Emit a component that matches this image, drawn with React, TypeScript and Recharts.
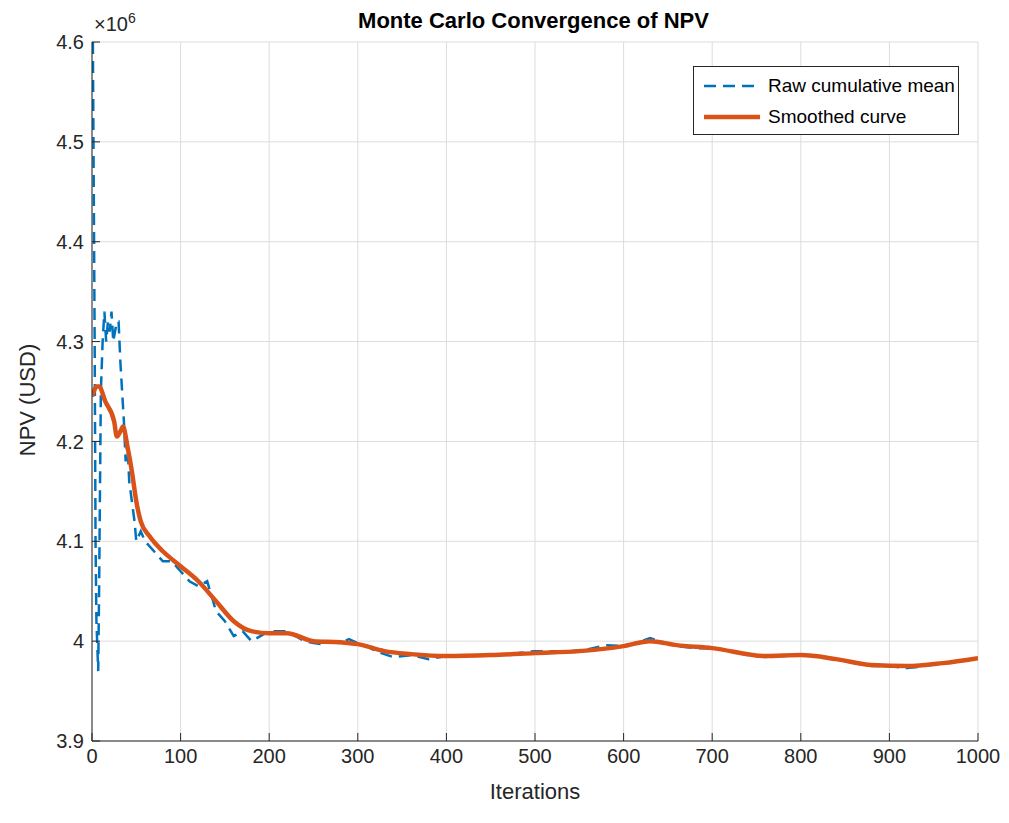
import React from "react";
import { LineChart, Line, XAxis, YAxis, CartesianGrid, Label } from "recharts";

const rawX = [1,2,3,4,5,7,8,9,10,12,14,16,18,20,22,24,26,28,30,32,34,36,38,40,42,45,48,50,55,60,70,80,90,100,110,120,130,140,150,160,170,180,190,200,210,220,230,240,250,260,270,280,290,300,310,320,340,360,380,400,420,440,460,480,500,520,540,560,580,600,620,630,640,660,680,700,720,740,760,780,800,820,840,860,880,900,920,940,960,980,1000];
const rawY = [4.6,4.45,4.3,4.1,4.02,3.97,4.05,4.15,4.25,4.3,4.33,4.3,4.32,4.31,4.33,4.3,4.31,4.32,4.32,4.28,4.25,4.22,4.18,4.2,4.16,4.14,4.12,4.1,4.11,4.1,4.09,4.08,4.08,4.07,4.06,4.055,4.06,4.03,4.02,4.005,4.01,4.0,4.005,4.01,4.01,4.01,4.005,4.0,3.998,3.997,3.999,3.998,4.002,3.998,3.995,3.99,3.984,3.986,3.982,3.985,3.985,3.986,3.986,3.988,3.99,3.99,3.99,3.992,3.996,3.995,4.0,4.003,4.0,3.995,3.993,3.993,3.99,3.986,3.984,3.985,3.986,3.985,3.982,3.978,3.975,3.975,3.973,3.975,3.978,3.98,3.983];
const smX = [0,2,5,8,15,25,28,32,35,40,45,50,55,65,80,100,120,140,160,180,200,220,250,280,300,330,360,400,450,500,550,600,630,660,700,760,800,840,880,920,960,1000];
const smY = [4.245,4.25,4.255,4.255,4.24,4.22,4.205,4.21,4.215,4.195,4.17,4.14,4.12,4.105,4.09,4.075,4.06,4.04,4.02,4.01,4.008,4.008,4.0,3.999,3.997,3.99,3.987,3.985,3.986,3.988,3.99,3.995,4.0,3.996,3.993,3.985,3.986,3.982,3.976,3.975,3.978,3.983];
const xTicks = [0,100,200,300,400,500,600,700,800,900,1000];
const yTicks = [3.9e6,4.0e6,4.1e6,4.2e6,4.3e6,4.4e6,4.5e6,4.6e6];

const rawData = rawX.map((x, i) => ({ x, y: rawY[i] * 1e6 }));
const smData = smX.map((x, i) => ({ x, y: smY[i] * 1e6 }));

const font = "Arial, 'Liberation Sans', sans-serif";

export default function App() {
  return (
    <div style={{ position: "relative", width: 1001, height: 815, fontFamily: font, background: "#fff" }}>
      <LineChart width={1001} height={815} margin={{ top: 34, right: 31, left: 20, bottom: 32 }}>
        <CartesianGrid stroke="#dcdcdc" />
        <XAxis type="number" dataKey="x" domain={[0, 1000]} ticks={xTicks} height={50}
          tick={{ fill: "#262626", fontSize: 20, fontFamily: font }} stroke="#262626" tickSize={-8} tickMargin={16} allowDataOverflow>
          <Label value="Iterations" position="insideBottom" offset={-8} style={{ fill: "#262626", fontSize: 22, fontFamily: font }} />
        </XAxis>
        <YAxis type="number" domain={[3.9e6, 4.6e6]} ticks={yTicks} width={64}
          tickFormatter={(v: number) => String(+(v / 1e6).toFixed(1))}
          tick={{ fill: "#262626", fontSize: 20, fontFamily: font }} stroke="#262626" tickSize={-8} tickMargin={16} allowDataOverflow />
        <XAxis xAxisId="top" orientation="top" type="number" domain={[0, 1000]} ticks={xTicks} tick={false} stroke="#262626" tickSize={-8} height={0} />
        <YAxis yAxisId="right" orientation="right" domain={[3.9e6, 4.6e6]} ticks={yTicks} tick={false} stroke="#262626" tickSize={-8} width={0} />
        <Line data={rawData} dataKey="y" type="linear" stroke="#0072BD" strokeWidth={2.5} strokeDasharray="12 7" dot={false} isAnimationActive={false} />
        <Line data={smData} dataKey="y" type="monotone" stroke="#D95319" strokeWidth={4.5} dot={false} isAnimationActive={false} />
      </LineChart>
      <div style={{ position: "absolute", left: 20, top: 392, transform: "translate(-50%,-50%) rotate(-90deg)", whiteSpace: "nowrap", fontSize: 22, color: "#262626" }}>NPV (USD)</div>
      <div style={{ position: "absolute", left: 0, top: 0, width: 1001, textAlign: "center", paddingLeft: 50, boxSizing: "border-box", fontWeight: "bold", fontSize: 22, color: "#000" }}>Monte Carlo Convergence of NPV</div>
      <div style={{ position: "absolute", left: 86, top: 2, fontSize: 20, color: "#262626" }}>×10<sup style={{ fontSize: 14 }}>6</sup></div>
      <div style={{ position: "absolute", left: 685, top: 58, width: 264, height: 67, border: "1px solid #262626", background: "#fff", fontSize: 19, color: "#000", whiteSpace: "nowrap" }}>
        <div style={{ position: "absolute", left: 4, top: 8, display: "flex", alignItems: "center" }}>
          <svg width={66} height={10}><line x1={6} x2={62} y1={5} y2={5} stroke="#0072BD" strokeWidth={2.5} strokeDasharray="12 7" /></svg>
          <span style={{ marginLeft: 4 }}>Raw cumulative mean</span>
        </div>
        <div style={{ position: "absolute", left: 4, top: 39, display: "flex", alignItems: "center" }}>
          <svg width={66} height={10}><line x1={6} x2={62} y1={5} y2={5} stroke="#D95319" strokeWidth={4.5} /></svg>
          <span style={{ marginLeft: 4 }}>Smoothed curve</span>
        </div>
      </div>
    </div>
  );
}
